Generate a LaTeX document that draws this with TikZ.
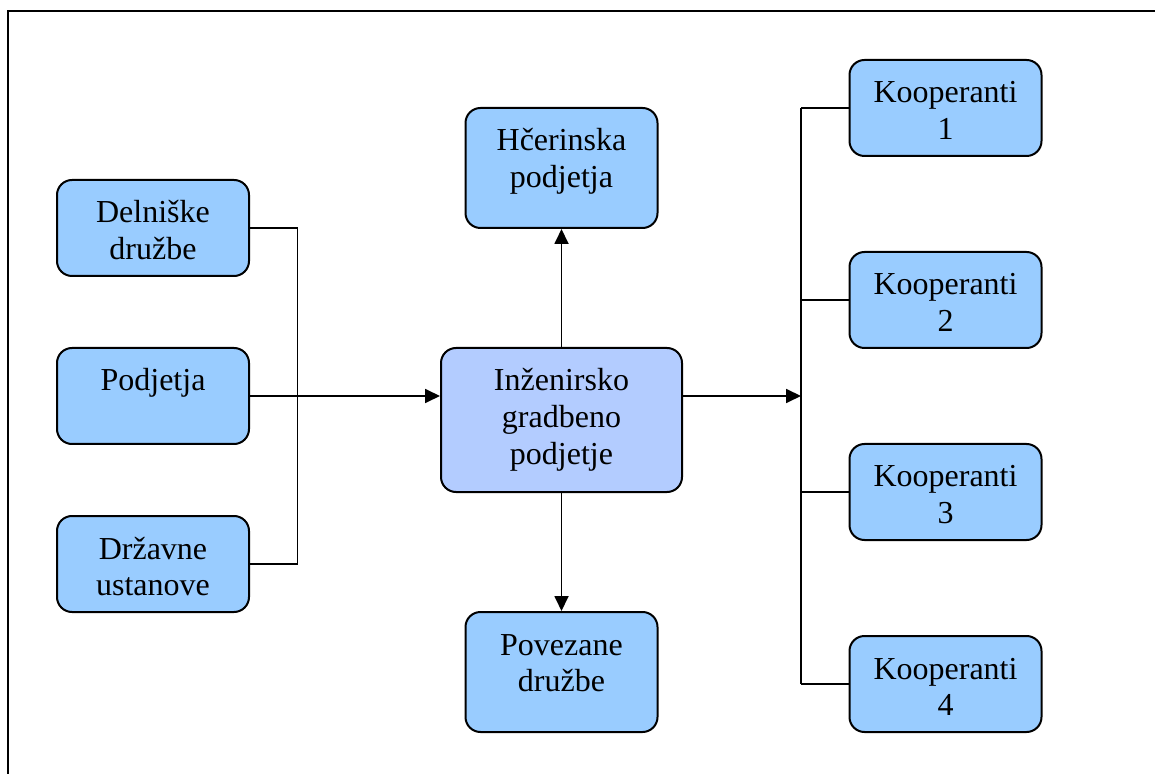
\documentclass[tikz,border=0pt]{standalone}
\usepackage{fontspec}
\setmainfont{Liberation Serif}
\usetikzlibrary{arrows.meta}
\definecolor{boxblue}{HTML}{99CCFF}
\definecolor{corefill}{HTML}{B3CCFF}
% box text: top-aligned, first baseline 21.5pt below the box top
\newcommand{\boxtext}[3]{\parbox[c][#2][t]{#1}{\centering\rule{0pt}{21.5pt}#3}}
\begin{document}
\begin{tikzpicture}[x=0.5pt,y=-0.5pt,
  orgbox/.style={draw=black, line width=1pt, rounded corners=7.5pt,
    fill=boxblue, inner sep=0pt, font=\fontsize{16}{18.4}\selectfont},
  wire/.style={line width=0.9pt},
  arr/.style={wire, -{Triangle[length=7.5pt,width=7pt]}}]
\useasboundingbox (0,0) rectangle (1155,774);
% page frame (top and left edges only)
\draw[line width=1.1pt] (1155,11) -- (8,11) -- (8,774);

% left column
\node[orgbox] (del) at (153,228) {\boxtext{96pt}{48pt}{Delniške\\družbe}};
\node[orgbox] (pod) at (153,396) {\boxtext{96pt}{48pt}{Podjetja}};
\node[orgbox] (drz) at (153,564) {\boxtext{96pt}{48pt}{Državne\\ustanove}};

% centre column
\node[orgbox] (hce) at (561.5,168) {\boxtext{96pt}{60pt}{Hčerinska\\podjetja}};
\node[orgbox, fill=corefill] (ing) at (561.5,420) {\boxtext{120.5pt}{72pt}{Inženirsko\\gradbeno\\podjetje}};
\node[orgbox] (pov) at (561.5,672) {\boxtext{96pt}{60pt}{Povezane\\družbe}};

% right column
\node[orgbox] (k1) at (945.5,108) {\boxtext{96pt}{48pt}{Kooperanti\\1}};
\node[orgbox] (k2) at (945.5,300) {\boxtext{96pt}{48pt}{Kooperanti\\2}};
\node[orgbox] (k3) at (945.5,492) {\boxtext{96pt}{48pt}{Kooperanti\\3}};
\node[orgbox] (k4) at (945.5,684) {\boxtext{96pt}{48pt}{Kooperanti\\4}};

% bus lines
\coordinate (lbus) at (297.5,396);
\coordinate (rbus) at (801,396);

% left bracket and input arrow
\draw[wire] (del.east) -- (del.east -| lbus) -- (drz.east -| lbus) -- (drz.east);
\draw[arr] (pod.east) -- (pod.east -| ing.west);

% vertical arrows
\draw[arr] (ing.north) -- (hce.south);
\draw[arr] (ing.south) -- (pov.north);

% output arrow and right bracket
\draw[arr] (pod.east -| ing.east) -- (rbus);
\draw[wire] (k1.west -| rbus) -- (k4.west -| rbus);
\foreach \k in {k1,k2,k3,k4}
  \draw[wire] (\k.west -| rbus) -- (\k.west);
\end{tikzpicture}
\end{document}
